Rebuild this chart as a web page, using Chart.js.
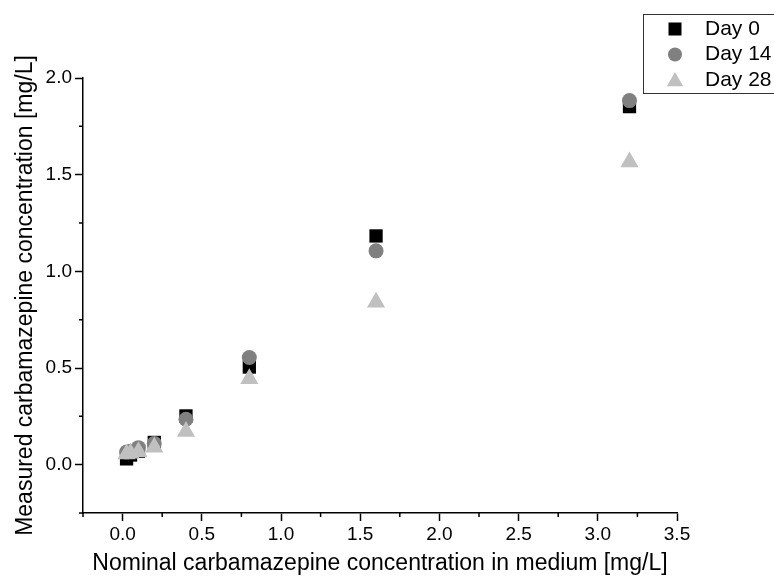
<!DOCTYPE html>
<html>
<head>
<meta charset="utf-8">
<script src="https://cdn.jsdelivr.net/npm/chart.js@4.4.0/dist/chart.umd.min.js"></script>
<style>
html,body{margin:0;padding:0;background:#fff;}
canvas{display:block;}
</style>
</head>
<body>
<canvas id="c" width="774" height="580"></canvas>
<script>
const nominal = [0.025, 0.05, 0.1, 0.2, 0.4, 0.8, 1.6, 3.2];
const day0  = [0.03, 0.05, 0.07, 0.115, 0.252, 0.505, 1.183, 1.852];
const day14 = [0.065, 0.07, 0.088, 0.11, 0.235, 0.554, 1.106, 1.883];
const day28 = [0.055, 0.059, 0.067, 0.09, 0.172, 0.445, 0.84, 1.565];
const seriesNames = ['Day 0', 'Day 14', 'Day 28'];
const xTicks = [0, 0.5, 1.0, 1.5, 2.0, 2.5, 3.0, 3.5];
const yTicks = [0, 0.5, 1.0, 1.5, 2.0];
const xMinor = [-0.25, 0.25, 0.75, 1.25, 1.75, 2.25, 2.75, 3.25];
const yMinor = [-0.25, 0.25, 0.75, 1.25, 1.75];
const xTitle = 'Nominal carbamazepine concentration in medium [mg/L]';
const yTitle = 'Measured carbamazepine concentration [mg/L]';

const FONT = "'Liberation Sans', Arial, sans-serif";
const toPts = ys => nominal.map((x, i) => ({x: x, y: ys[i]}));

const styles = [
  {pointStyle: 'rect', radius: 9.4, color: '#000000'},
  {pointStyle: 'circle', radius: 7.5, color: '#808080'},
  {pointStyle: 'triangle', radius: 10.5, color: '#c0c0c0'}
];
const allSeries = [day0, day14, day28];

const datasets = allSeries.map((ys, i) => ({
  label: seriesNames[i],
  data: toPts(ys),
  pointStyle: styles[i].pointStyle,
  pointRadius: styles[i].radius,
  pointHoverRadius: styles[i].radius,
  backgroundColor: styles[i].color,
  borderColor: styles[i].color,
  borderWidth: 0,
  order: 3 - i
}));

function drawShape(ctx, style, r, x, y, color) {
  ctx.save();
  ctx.fillStyle = color;
  ctx.beginPath();
  if (style === 'rect') {
    const s = Math.SQRT1_2 * r;
    ctx.rect(x - s, y - s, 2 * s, 2 * s);
  } else if (style === 'circle') {
    ctx.arc(x, y, r, 0, Math.PI * 2);
  } else {
    for (let k = 0; k < 3; k++) {
      const a = -Math.PI / 2 + k * 2 * Math.PI / 3;
      const px = x + Math.cos(a) * r, py = y + Math.sin(a) * r;
      if (k === 0) ctx.moveTo(px, py); else ctx.lineTo(px, py);
    }
    ctx.closePath();
  }
  ctx.fill();
  ctx.restore();
}

const extras = {
  id: 'extras',
  afterDraw(chart) {
    const ctx = chart.ctx;
    const xs = chart.scales.x, ys = chart.scales.y;
    ctx.save();
    ctx.strokeStyle = '#000';
    ctx.lineWidth = 1.5;
    ctx.beginPath();
    xMinor.forEach(v => {
      const px = xs.getPixelForValue(v);
      ctx.moveTo(px, xs.top); ctx.lineTo(px, xs.top + 4);
    });
    yMinor.forEach(v => {
      const py = ys.getPixelForValue(v);
      ctx.moveTo(ys.right, py); ctx.lineTo(ys.right - 4, py);
    });
    ctx.stroke();
    // legend
    const bx = 643, by = 14, bh = 79;
    ctx.fillStyle = '#fff';
    ctx.fillRect(bx, by, 200, bh);
    ctx.strokeStyle = '#333';
    ctx.lineWidth = 1;
    ctx.strokeRect(bx + 0.5, by + 0.5, 200, bh);
    const rows = [29, 54.5, 80];
    const legR = [9.2, 7, 9.5];
    ctx.font = '21px ' + FONT;
    ctx.textBaseline = 'middle';
    ctx.textAlign = 'left';
    chart.data.datasets.forEach((ds, i) => {
      const yy = rows[i];
      drawShape(ctx, ds.pointStyle, legR[i], 675, ds.pointStyle === 'triangle' ? yy + 1.5 : yy, ds.backgroundColor);
      ctx.fillStyle = '#000';
      ctx.fillText(ds.label, 705, yy);
    });
    ctx.restore();
  }
};

new Chart(document.getElementById('c'), {
  type: 'scatter',
  data: {datasets: datasets},
  options: {
    responsive: false,
    devicePixelRatio: 1,
    animation: false,
    layout: {padding: {left: 0, top: 78, right: 97, bottom: 0}},
    plugins: {legend: {display: false}, tooltip: {enabled: false}},
    scales: {
      x: {
        type: 'linear',
        min: -0.25, max: 3.5,
        afterFit: s => { s.height = 67; },
        afterBuildTicks: s => { s.ticks = xTicks.map(v => ({value: v})); },
        ticks: {
          callback: v => Number(v).toFixed(1),
          color: '#000', font: {family: FONT, size: 19}, padding: 2,
          maxRotation: 0, autoSkip: false
        },
        grid: {drawOnChartArea: false, drawTicks: true, tickLength: 8, tickColor: '#000', tickWidth: 1.5},
        border: {display: true, color: '#000', width: 1.5},
        title: {display: true, text: xTitle, color: '#000', font: {family: FONT, size: 23}, padding: {top: 0, bottom: 3}}
      },
      y: {
        type: 'linear',
        min: -0.25, max: 2.0,
        afterFit: s => { s.width = 83; },
        afterBuildTicks: s => { s.ticks = yTicks.map(v => ({value: v})); },
        ticks: {
          callback: v => Number(v).toFixed(1),
          color: '#000', font: {family: FONT, size: 19}, padding: 3, autoSkip: false
        },
        grid: {drawOnChartArea: false, drawTicks: true, tickLength: 8, tickColor: '#000', tickWidth: 1.5},
        border: {display: true, color: '#000', width: 1.5},
        title: {display: true, text: yTitle, color: '#000', font: {family: FONT, size: 23}, padding: {top: 12, bottom: 0}}
      }
    }
  },
  plugins: [extras]
});
</script>
</body>
</html>
